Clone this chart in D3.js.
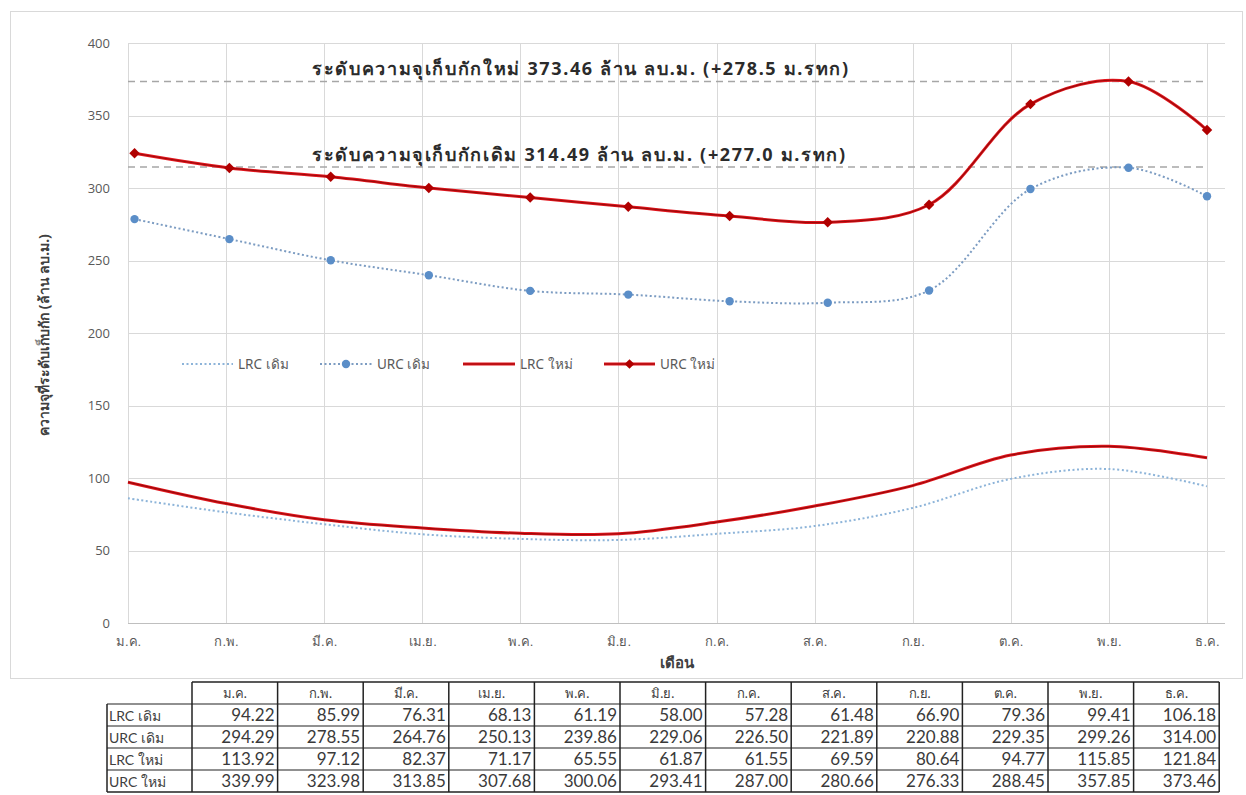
<!DOCTYPE html>
<html>
<head>
<meta charset="utf-8">
<script src="https://cdn.jsdelivr.net/npm/d3@7"></script>
<style>
  html, body { margin: 0; padding: 0; background: #fff; }
  svg { display: block; font-family: "Noto Sans", "DejaVu Sans", sans-serif; }
</style>
</head>
<body>
<svg id="chart" width="1246" height="795"></svg>
<script>
// Month names (Thai abbreviations)
const months = ["ม.ค.", "ก.พ.", "มี.ค.", "เม.ย.", "พ.ค.", "มิ.ย.", "ก.ค.", "ส.ค.", "ก.ย.", "ต.ค.", "พ.ย.", "ธ.ค."];

// Rule-curve storage (million m³), as listed in the table
const lrcOld = [94.22, 85.99, 76.31, 68.13, 61.19, 58.00, 57.28, 61.48, 66.90, 79.36, 99.41, 106.18];
const urcOld = [294.29, 278.55, 264.76, 250.13, 239.86, 229.06, 226.50, 221.89, 220.88, 229.35, 299.26, 314.00];
const lrcNew = [113.92, 97.12, 82.37, 71.17, 65.55, 61.87, 61.55, 69.59, 80.64, 94.77, 115.85, 121.84];
const urcNew = [339.99, 323.98, 313.85, 307.68, 300.06, 293.41, 287.00, 280.66, 276.33, 288.45, 357.85, 373.46];

// Day of month at which each upper-curve reading is plotted
const urcDay = [3, 2, 3, 3, 4, 4, 5, 5, 6, 7, 7, 1];

// Storage capacity levels
const capacityNew = 373.46;
const capacityOld = 314.49;
const capacityNewLabel = "ระดับความจุเก็บกักใหม่ 373.46 ล้าน ลบ.ม. (+278.5 ม.รทก)";
const capacityOldLabel = "ระดับความจุเก็บกักเดิม 314.49 ล้าน ลบ.ม. (+277.0 ม.รทก)";

const yTicks = [0, 50, 100, 150, 200, 250, 300, 350, 400];
const rowNames = ["LRC เดิม", "URC เดิม", "LRC ใหม่", "URC ใหม่"];

// Each curve point is the end-of-month level, i.e. the next column of the table
const shiftNext = arr => arr.slice(1).concat(arr.slice(0, 1));

const svg = d3.select("#chart");

// Chart frame
svg.append("rect").attr("x", 10.5).attr("y", 11.5).attr("width", 1232).attr("height", 667)
  .attr("fill", "#fff").attr("stroke", "#d9d9d9");

const plot = { left: 128, right: 1225, top: 43, bottom: 623 };
const x = d3.scaleLinear().domain([0, 11]).range([plot.left, 1207]);
const y = d3.scaleLinear().domain([0, 400]).range([plot.bottom, plot.top]);

const g = svg.append("g");

// Horizontal gridlines
g.append("g").selectAll("line").data(yTicks.filter(d => d > 0)).join("line")
  .attr("x1", plot.left).attr("x2", plot.right)
  .attr("y1", d => Math.round(y(d)) + 0.5).attr("y2", d => Math.round(y(d)) + 0.5)
  .attr("stroke", "#d9d9d9").attr("stroke-width", 1);

// Vertical gridlines
g.append("g").selectAll("line").data(months.map((m, i) => i)).join("line")
  .attr("x1", d => Math.round(x(d)) + 0.5).attr("x2", d => Math.round(x(d)) + 0.5)
  .attr("y1", plot.top).attr("y2", plot.bottom)
  .attr("stroke", "#d9d9d9").attr("stroke-width", 1);

// Baseline
g.append("line").attr("x1", plot.left).attr("x2", plot.right)
  .attr("y1", plot.bottom + 0.5).attr("y2", plot.bottom + 0.5)
  .attr("stroke", "#bfbfbf");

// Y axis labels
const yAxis = d3.axisLeft(y).tickValues(yTicks).tickSize(0).tickPadding(18);
const ya = g.append("g").attr("transform", `translate(${plot.left},0)`).call(yAxis);
ya.select(".domain").remove();
ya.selectAll("text").attr("fill", "#595959").style("font-size", "13px")
  .style("font-family", "'Open Sans', 'Noto Sans', sans-serif");

// X axis labels
const xAxis = d3.axisBottom(x).tickValues(months.map((m, i) => i)).tickFormat(i => months[i])
  .tickSize(0).tickPadding(14);
const xa = g.append("g").attr("transform", `translate(0,${plot.bottom})`).call(xAxis);
xa.select(".domain").remove();
xa.selectAll("text").attr("fill", "#595959").style("font-size", "13px");

// Axis titles
svg.append("text").attr("x", 677).attr("y", 668).attr("text-anchor", "middle")
  .attr("fill", "#404040").style("font-size", "15px").style("font-weight", "bold").text("เดือน");
svg.append("text").attr("transform", "translate(49,335) rotate(-90)").attr("text-anchor", "middle")
  .attr("fill", "#404040").style("font-size", "14px").style("font-weight", "bold")
  .text("ความจุที่ระดับเก็บกัก (ล้าน ลบ.ม.)");

// Capacity reference lines
[capacityNew, capacityOld].forEach(v => {
  g.append("line").attr("x1", plot.left).attr("x2", 1207)
    .attr("y1", y(v)).attr("y2", y(v))
    .attr("stroke", "#a6a6a6").attr("stroke-width", 1.3).attr("stroke-dasharray", "7,5");
});
[[capacityNew, capacityNewLabel], [capacityOld, capacityOldLabel]].forEach(([v, label]) => {
  svg.append("text").attr("x", 312).attr("y", y(v) - 6)
    .attr("fill", "#2b2b2b").style("font-size", "18px").style("font-weight", "bold")
    .style("letter-spacing", "1.65px").text(label);
});

const curve = d3.curveCatmullRom.alpha(0.5);
const lineAt = d3.line().x(d => x(d.t)).y(d => y(d.v)).curve(curve);

const lrcPts = arr => shiftNext(arr).map((v, i) => ({ t: i, v }));
const urcPts = arr => shiftNext(arr).map((v, i) => ({ t: i + (urcDay[i] - 1) / 30, v }));

// LRC เดิม (dotted)
g.append("path").datum(lrcPts(lrcOld)).attr("d", lineAt).attr("fill", "none")
  .attr("stroke", "#8db4d9").attr("stroke-width", 2).attr("stroke-dasharray", "2,2.5");

// URC เดิม (dotted with circles)
const urcOldPts = urcPts(urcOld);
g.append("path").datum(urcOldPts).attr("d", lineAt).attr("fill", "none")
  .attr("stroke", "#7c9cc2").attr("stroke-width", 2).attr("stroke-dasharray", "2,2.5");
g.append("g").selectAll("circle").data(urcOldPts).join("circle")
  .attr("cx", d => x(d.t)).attr("cy", d => y(d.v)).attr("r", 4.2).attr("fill", "#5b8ec8");

// LRC ใหม่ (solid red)
function redLine(data) {
  g.append("path").datum(data).attr("d", lineAt).attr("fill", "none")
    .attr("stroke", "#e3161e").attr("stroke-width", 3);
  g.append("path").datum(data).attr("d", lineAt).attr("fill", "none")
    .attr("stroke", "#9c0a0a").attr("stroke-width", 1.2);
}
redLine(lrcPts(lrcNew));

// URC ใหม่ (solid red with diamonds)
const urcNewPts = urcPts(urcNew);
redLine(urcNewPts);
g.append("g").selectAll("path.mk").data(urcNewPts).join("path")
  .attr("transform", d => `translate(${x(d.t)},${y(d.v)})`)
  .attr("d", d3.symbol(d3.symbolDiamond2, 70)).attr("fill", "#b00000");

// Legend
const legend = svg.append("g").attr("transform", "translate(0,364)");
const legItems = [
  { name: "LRC เดิม", x0: 182, x1: 233, type: "dotLight" },
  { name: "URC เดิม", x0: 320, x1: 372, type: "dotMarker" },
  { name: "LRC ใหม่", x0: 463, x1: 515, type: "red" },
  { name: "URC ใหม่", x0: 604, x1: 655, type: "redMarker" }
];
legItems.forEach(it => {
  const lg = legend.append("g");
  if (it.type.startsWith("dot")) {
    lg.append("line").attr("x1", it.x0).attr("x2", it.x1).attr("y1", 0).attr("y2", 0)
      .attr("stroke", it.type === "dotLight" ? "#8db4d9" : "#7c9cc2")
      .attr("stroke-width", 2).attr("stroke-dasharray", "2,2.5");
    if (it.type === "dotMarker")
      lg.append("circle").attr("cx", (it.x0 + it.x1) / 2).attr("cy", 0).attr("r", 4.2).attr("fill", "#5b8ec8");
  } else {
    lg.append("line").attr("x1", it.x0).attr("x2", it.x1).attr("y1", 0).attr("y2", 0)
      .attr("stroke", "#e3161e").attr("stroke-width", 3);
    lg.append("line").attr("x1", it.x0).attr("x2", it.x1).attr("y1", 0).attr("y2", 0)
      .attr("stroke", "#9c0a0a").attr("stroke-width", 1.2);
    if (it.type === "redMarker")
      lg.append("path").attr("transform", `translate(${(it.x0 + it.x1) / 2},0)`)
        .attr("d", d3.symbol(d3.symbolDiamond2, 60)).attr("fill", "#b00000");
  }
  lg.append("text").attr("x", it.x1 + 5).attr("y", 4.5).attr("fill", "#595959")
    .style("font-size", "13.5px").text(it.name);
});

// Data table
const table = svg.append("g").style("font-family", "Lato, 'Noto Sans', sans-serif");
const col0 = 107, colStart = 192, colW = 85.6, rowTop = 682, rowH = 22;
const colX = d3.scaleLinear().domain([0, 12]).range([colStart, colStart + colW * 12]);
const tableData = [lrcOld, urcOld, lrcNew, urcNew];

// Header row
table.append("g").selectAll("text").data(months).join("text")
  .attr("x", (d, i) => colX(i + 0.5)).attr("y", rowTop + 16).attr("text-anchor", "middle")
  .attr("fill", "#404040").style("font-size", "13px").text(d => d);

// Body rows
tableData.forEach((row, r) => {
  const ty = rowTop + rowH * (r + 1) + 17;
  table.append("text").attr("x", col0 + 2).attr("y", ty).attr("fill", "#404040")
    .style("font-size", "14px").text(rowNames[r]);
  table.append("g").selectAll("text").data(row).join("text")
    .attr("x", (d, i) => colX(i + 1) - 3).attr("y", ty).attr("text-anchor", "end")
    .attr("fill", "#3a3a3a").style("font-size", "17px").text(d => d.toFixed(2));
});

// Table borders
const tb = table.append("g").attr("stroke", "#222").attr("stroke-width", 1.5).attr("fill", "none");
const tableBottom = rowTop + rowH * 5;
tb.append("line").attr("x1", colStart).attr("x2", colX(12)).attr("y1", rowTop).attr("y2", rowTop);
for (let r = 1; r <= 5; r++) {
  tb.append("line").attr("x1", col0).attr("x2", colX(12))
    .attr("y1", rowTop + rowH * r).attr("y2", rowTop + rowH * r)
    .attr("stroke-width", r === 5 ? 1.5 : 1.2);
}
tb.append("line").attr("x1", col0).attr("x2", col0).attr("y1", rowTop + rowH).attr("y2", tableBottom);
d3.range(13).forEach(i => {
  tb.append("line").attr("x1", colX(i)).attr("x2", colX(i)).attr("y1", rowTop).attr("y2", tableBottom);
});
</script>
</body>
</html>
